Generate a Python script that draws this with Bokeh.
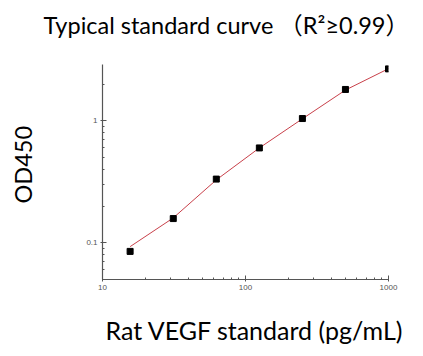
from bokeh.plotting import figure
from bokeh.models import Title, FixedTicker, Range1d
from bokeh.embed import file_html
from bokeh.resources import INLINE

# data
conc = [15.6, 31.25, 62.5, 125, 250, 500, 1000]
od = [0.085, 0.158, 0.333, 0.60, 1.045, 1.81, 2.67]
fit_od = [0.093, 0.160, 0.328, 0.600, 1.040, 1.790, 2.680]
x_ticks = [10, 100, 1000]
x_minor = [20, 30, 40, 50, 60, 70, 80, 90, 200, 300, 400, 500, 600, 700, 800, 900]
y_ticks = [0.1, 1]
y_minor = [0.06, 0.07, 0.08, 0.09, 0.2, 0.3, 0.4, 0.5, 0.6, 0.7, 0.8, 0.9, 2]
title_text = "Typical standard curve （R²≥0.99）"
x_title = "Rat VEGF standard (pg/mL)"
y_title = "OD450"

W, H = 415, 348
p = figure(width=W, height=H, x_axis_type="log", y_axis_type="log",
           x_range=Range1d(10, 1000), y_range=Range1d(0.05, 2.9),
           output_backend="svg", toolbar_location=None, title=None,
           min_border_left=102, min_border_right=27, min_border_top=64, min_border_bottom=69)
p.outline_line_color = None
p.grid.visible = False
p.background_fill_color = "white"
p.border_fill_color = "white"

p.line(conc, fit_od, line_color="#c8404a", line_width=1)
p.scatter(conc, od, marker="square", size=6, fill_color="black", line_color="black")

for ax in (p.xaxis[0], p.yaxis[0]):
    ax.axis_line_color = "#555555"
    ax.axis_line_width = 1.2
    ax.major_tick_line_color = "#555555"
    ax.minor_tick_line_color = "#555555"
    ax.major_tick_in = 4
    ax.major_tick_out = 2
    ax.minor_tick_in = 2
    ax.minor_tick_out = 0
    ax.major_label_text_font = "Liberation Sans"
    ax.major_label_text_font_size = "8px"
    ax.major_label_text_color = "#555555"
    ax.major_label_standoff = 3

p.xaxis[0].ticker = FixedTicker(ticks=x_ticks, minor_ticks=x_minor)
p.yaxis[0].ticker = FixedTicker(ticks=y_ticks, minor_ticks=y_minor)
p.xaxis[0].major_label_overrides = {10: "10", 100: "100", 1000: "1000"}
p.yaxis[0].major_label_overrides = {0.1: "0.1", 1: "1"}

font = "Lato, 'Noto Sans CJK SC'"

def spacer(s):
    return Title(text=" ", text_font_size="1px", standoff=s, text_color="white")

# above: spacer next to frame, then main title
p.add_layout(spacer(23), "above")
p.add_layout(Title(text=title_text, align="left", offset=-59, standoff=0,
                   text_font=font, text_font_size="23.5px", text_font_style="normal",
                   text_color="black"), "above")
# below: spacer after axis, then x label
p.add_layout(spacer(17), "below")
p.add_layout(Title(text=x_title, align="left", offset=3, standoff=0,
                   text_font=font, text_font_size="25px", text_font_style="normal",
                   text_color="black"), "below")
# left: spacer after axis, then y label
p.add_layout(spacer(44), "left")
p.add_layout(Title(text=y_title, align="left", offset=76, standoff=0,
                   text_font=font, text_font_size="23.5px", text_font_style="normal",
                   text_color="black"), "left")

open("out.html", "w").write(file_html(p, INLINE))
